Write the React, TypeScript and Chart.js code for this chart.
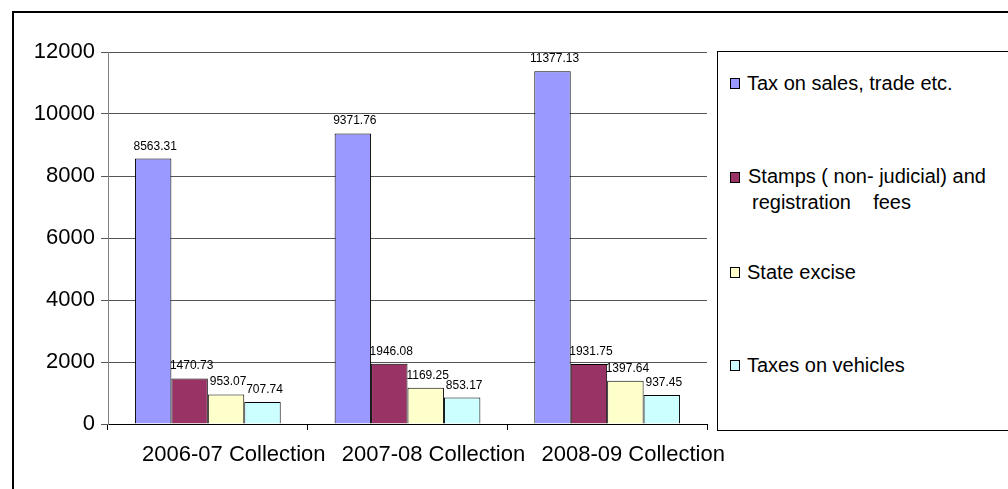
import React, { useEffect, useRef } from "react";
import { Chart, registerables } from "chart.js";

Chart.register(...registerables);

// Revenue collection by head (Rs. crore)
const categories = ["2006-07 Collection", "2007-08 Collection", "2008-09 Collection"];
const salesTax = [8563.31, 9371.76, 11377.13];
const stampsFees = [1470.73, 1946.08, 1931.75];
const stateExcise = [953.07, 1169.25, 1397.64];
const vehicleTax = [707.74, 853.17, 937.45];

const seriesNames = [
  "Tax on sales, trade etc.",
  "Stamps ( non- judicial) and registration    fees",
  "State excise",
  "Taxes on vehicles",
];
const legendLines = [
  ["Tax on sales, trade etc."],
  ["Stamps ( non- judicial) and", "registration    fees"],
  ["State excise"],
  ["Taxes on vehicles"],
];
const seriesColors = ["#9999FF", "#993366", "#FFFFCC", "#CCFFFF"];

const yMin = 0;
const yMax = 12000;
const yStep = 2000;

const FONT = "'Liberation Sans', Arial, Helvetica, sans-serif";

// Value labels drawn above each bar
const valueLabels = {
  id: "valueLabels",
  afterDatasetsDraw(chart: any) {
    const ctx = chart.ctx as CanvasRenderingContext2D;
    ctx.save();
    ctx.font = `12px ${FONT}`;
    ctx.fillStyle = "#000";
    ctx.textAlign = "center";
    ctx.textBaseline = "alphabetic";
    chart.data.datasets.forEach((ds: any, i: number) => {
      const meta = chart.getDatasetMeta(i);
      meta.data.forEach((bar: any, j: number) => {
        const v = ds.data[j] as number;
        ctx.fillText(v.toFixed(2), bar.x + 2, bar.y - 9);
      });
    });
    ctx.restore();
  },
};

// Legend layout (page coordinates)
const legendRowTops = [70, 163, 259, 352];
const legendSquareTops = [78, 172, 267, 360];

function Legend() {
  return (
    <>
      <div
        style={{
          position: "absolute",
          left: 717,
          top: 51,
          width: 400,
          height: 378,
          border: "1px solid #000",
          background: "#fff",
        }}
      />
      {legendLines.map((lines, i) => (
        <React.Fragment key={i}>
          <div
            style={{
              position: "absolute",
              left: 730,
              top: legendSquareTops[i],
              width: 8,
              height: 9,
              border: "1px solid #000",
              background: seriesColors[i],
            }}
          />
          {lines.map((line, k) => (
            <div
              key={k}
              style={{
                position: "absolute",
                left: k === 0 ? (i === 1 ? 748 : 747) : 752,
                top: legendRowTops[i] + k * 26,
                font: `20px ${FONT}`,
                lineHeight: "26px",
                whiteSpace: "pre",
                color: "#000",
              }}
            >
              {line}
            </div>
          ))}
        </React.Fragment>
      ))}
    </>
  );
}

export default function App() {
  const canvasRef = useRef<HTMLCanvasElement | null>(null);

  useEffect(() => {
    const canvas = canvasRef.current;
    if (!canvas) return;
    const series = [salesTax, stampsFees, stateExcise, vehicleTax];
    const chart = new Chart(canvas, {
      type: "bar",
      data: {
        labels: categories,
        datasets: series.map((values, i) => ({
          label: seriesNames[i],
          data: values,
          backgroundColor: seriesColors[i],
          borderColor: "#000",
          borderWidth: 1,
          categoryPercentage: 0.73,
          barPercentage: 1,
        })),
      },
      options: {
        responsive: false,
        animation: false,
        devicePixelRatio: 1,
        layout: { padding: { left: 0, top: 52, right: 301, bottom: 15 } },
        plugins: {
          legend: { display: false },
          tooltip: { enabled: false },
          title: { display: false },
        },
        scales: {
          x: {
            offset: true,
            grid: {
              display: true,
              drawOnChartArea: false,
              drawTicks: true,
              tickLength: 6,
              color: "#000",
              offset: true,
            },
            border: { display: true, color: "#000", width: 1 },
            ticks: {
              color: "#000",
              font: { family: FONT, size: 22 },
              padding: 12,
              labelOffset: 26,
              maxRotation: 0,
              autoSkip: false,
            },
            afterFit(scale: any) {
              scale.height = 50;
            },
          },
          y: {
            min: yMin,
            max: yMax,
            grid: {
              color: "#555",
              tickLength: 7,
              drawTicks: true,
            },
            border: { display: true, color: "#808080", width: 1 },
            ticks: {
              stepSize: yStep,
              color: "#000",
              font: { family: FONT, size: 22 },
              padding: 6,
              callback: (v: any) => String(v),
            },
            afterFit(scale: any) {
              scale.width = 108;
            },
          },
        },
      },
      plugins: [valueLabels],
    });
    return () => chart.destroy();
  }, []);

  return (
    <div
      style={{
        position: "absolute",
        left: 0,
        top: 0,
        width: 1008,
        height: 489,
        overflow: "hidden",
        background: "#fff",
      }}
    >
      <div
        style={{
          position: "absolute",
          left: 12,
          top: 11,
          width: 1100,
          height: 600,
          border: "2px solid #000",
        }}
      />
      <canvas
        ref={canvasRef}
        width={1008}
        height={489}
        style={{ position: "absolute", left: 0, top: 0, width: 1008, height: 489 }}
      />
      <Legend />
    </div>
  );
}
